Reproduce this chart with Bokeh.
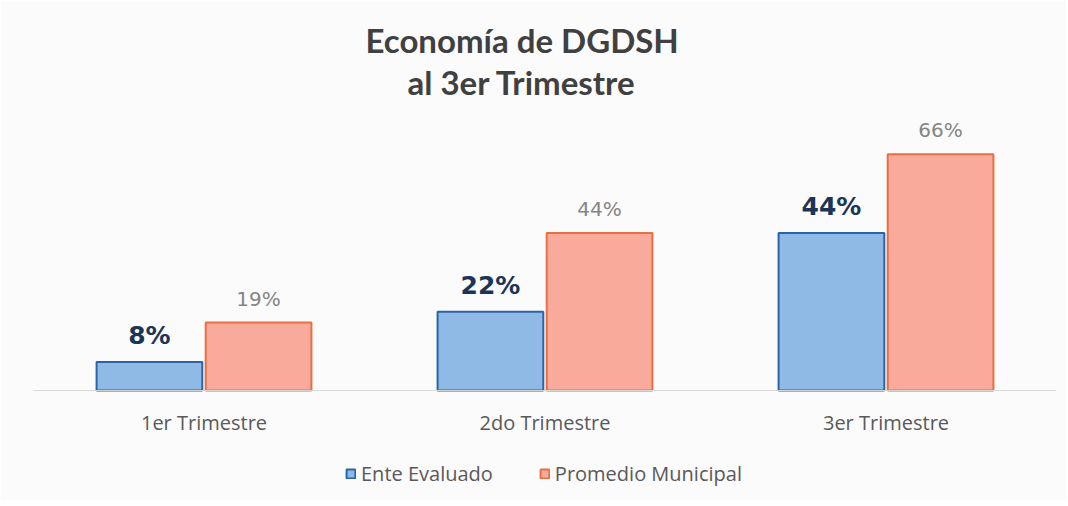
from bokeh.plotting import figure
from bokeh.models import ColumnDataSource, FactorRange, Range1d, Title, Legend, LegendItem, Span
from bokeh.transform import dodge
from bokeh.core.properties import value
from bokeh.embed import file_html
from bokeh.resources import INLINE

categories = ["1er Trimestre", "2do Trimestre", "3er Trimestre"]
ente_evaluado = [8, 22, 44]
promedio_municipal = [19, 44, 66]
series_names = ["Ente Evaluado", "Promedio Municipal"]

src = ColumnDataSource(dict(
    cat=categories,
    ente=ente_evaluado,
    prom=promedio_municipal,
    zero=[0] * len(categories),
    ente_lbl=[f"{v}%" for v in ente_evaluado],
    prom_lbl=[f"{v}%" for v in promedio_municipal],
))

BG = "#fbfbfb"
p = figure(
    x_range=FactorRange(*categories, range_padding=0),
    y_range=Range1d(-30.7, 78.2),
    frame_width=1023, frame_height=390,
    output_backend="svg", toolbar_location=None,
    min_border_left=33, min_border_right=10,
    min_border_top=110, min_border_bottom=0,
    background_fill_color=BG, border_fill_color=BG,
    outline_line_color=None,
)
p.xaxis.visible = False
p.yaxis.visible = False
p.xgrid.visible = False
p.ygrid.visible = False

p.add_layout(Span(location=0, dimension="width", line_color="#d9d9d9", line_width=1))

BAR_W = 0.31
r1 = p.vbar(x=dodge("cat", -0.16, range=p.x_range), top="ente", width=BAR_W, source=src,
            fill_color="#90bae6", line_color="#2b64a6", line_width=2)
r2 = p.vbar(x=dodge("cat", 0.16, range=p.x_range), top="prom", width=BAR_W, source=src,
            fill_color="#f9aa9b", line_color="#e96f42", line_width=2)

p.text(x=dodge("cat", -0.16, range=p.x_range), y="ente", text="ente_lbl", source=src,
       text_align="center", text_baseline="middle", y_offset=-26,
       text_font=value("DejaVu Sans"), text_font_style="bold", text_font_size="25px",
       text_color="#1c3557")
p.text(x=dodge("cat", 0.16, range=p.x_range), y="prom", text="prom_lbl", source=src,
       text_align="center", text_baseline="middle", y_offset=-24,
       text_font=value("DejaVu Sans"), text_font_size="20px",
       text_color="#858585")

p.text(x="cat", y="zero", text="cat", source=src,
       text_align="center", text_baseline="middle", y_offset=32,
       text_font=value("Open Sans"), text_font_size="20px", text_color="#595959")

legend = Legend(items=[LegendItem(label=series_names[0], renderers=[r1]),
                       LegendItem(label=series_names[1], renderers=[r2])],
                orientation="horizontal", location=(312, 13),
                label_text_font="Open Sans", label_text_font_size="20px",
                label_text_color="#595959", glyph_width=11, glyph_height=11,
                spacing=46, label_standoff=5, border_line_color=None,
                background_fill_alpha=0, margin=0, padding=0)
p.add_layout(legend)

t2 = Title(text="al 3er Trimestre", align="left", text_font="Lato",
           text_font_size="33px", text_font_style="bold", text_color="#404040",
           offset=374, standoff=18)
t1 = Title(text="Economía de DGDSH", align="left", text_font="Lato",
           text_font_size="33px", text_font_style="bold", text_color="#404040",
           offset=332, standoff=-19)
p.add_layout(t2, "above")
p.add_layout(t1, "above")

open("out.html", "w").write(file_html(p, INLINE))
